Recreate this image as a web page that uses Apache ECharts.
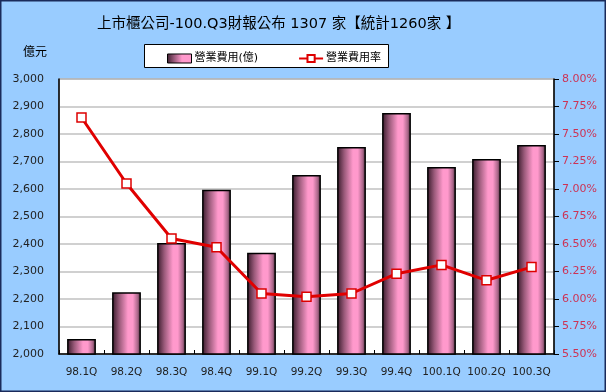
<!DOCTYPE html>
<html><head><meta charset="utf-8">
<script src="https://cdn.jsdelivr.net/npm/echarts@6/dist/echarts.min.js"></script>
<style>html,body{margin:0;padding:0;background:#99CCFF;}#c{width:606px;height:392px;}</style>
</head><body><div id="c"></div>
<script>
const categories = ['98.1Q','98.2Q','98.3Q','98.4Q','99.1Q','99.2Q','99.3Q','99.4Q','100.1Q','100.2Q','100.3Q'];
const expense = [2055, 2225, 2404, 2597, 2368, 2651, 2753, 2876, 2680, 2709, 2760];
const expenseRate = [7.65, 7.05, 6.55, 6.47, 6.05, 6.02, 6.05, 6.23, 6.31, 6.17, 6.29];
const cjk = '"DejaVu Sans","Noto Sans CJK TC",sans-serif';
const chart = echarts.init(document.getElementById('c'));
chart.setOption({
  backgroundColor: '#99CCFF',
  animation: false,
  title: {
    text: '上市櫃公司-100.Q3財報公布 1307 家【統計1260家 】',
    left: 92, top: 12,
    textStyle: {fontFamily: cjk, fontSize: 14.5, fontWeight: 'normal', color: '#000'}
  },
  graphic: [
    {type: 'rect', shape: {x: 0.5, y: 0.5, width: 605, height: 391}, style: {fill: 'none', stroke: '#1a2a5a', lineWidth: 2}, silent: true},
    {type: 'rect', shape: {x: 144.5, y: 44.5, width: 244, height: 23}, style: {fill: '#fff', stroke: '#000', lineWidth: 1}, z: -1, silent: true},
    {type: 'text', left: 23, top: 45, style: {text: '億元', font: '12px "Noto Sans CJK TC"', fill: '#000'}}
  ],
  legend: {
    left: 162, top: 48, itemGap: 40, itemWidth: 24, itemHeight: 9,
    textStyle: {fontFamily: cjk, fontSize: 11, color: '#000', padding: [0,0,0,-2]},
    data: [
      {name: '營業費用(億)', icon: 'rect', itemStyle: {color: new echarts.graphic.LinearGradient(0,0,1,0,[{offset:0,color:'#3d2030'},{offset:0.6,color:'#ff99cc'},{offset:1,color:'#ff99cc'}]), borderColor:'#000', borderWidth:1}},
      {name: '營業費用率'}
    ]
  },
  grid: {left: 59, right: 52, top: 79, bottom: 38, show: true, backgroundColor: '#fff', borderColor: '#777', borderWidth: 1},
  xAxis: {
    type: 'category', data: categories, boundaryGap: true,
    axisLine: {lineStyle: {color: '#000', width: 1.5}},
    axisTick: {show: true, inside: true, length: 4, lineStyle: {color: '#000'}},
    axisLabel: {color: '#222', fontFamily: '"DejaVu Sans"', fontSize: 10.5, margin: 13, interval: 0}
  },
  yAxis: [
    {type: 'value', min: 2000, max: 3000, interval: 100,
     axisLine: {show: true, lineStyle: {color: '#000', width: 1.5}},
     axisTick: {show: false},
     axisLabel: {color: '#222', fontFamily: '"DejaVu Sans"', fontSize: 11, margin: 15,
       formatter: v => v.toLocaleString('en-US')},
     splitLine: {lineStyle: {color: '#c0c0c0', width: 1.5}}},
    {type: 'value', min: 5.5, max: 8.0, interval: 0.25, position: 'right',
     axisLine: {show: true, lineStyle: {color: '#000', width: 1.5}},
     axisTick: {show: true, inside: false, length: 5, lineStyle: {color: '#000'}},
     axisLabel: {color: '#cc3355', fontFamily: '"DejaVu Sans"', fontSize: 11, margin: 8,
       formatter: v => v.toFixed(2) + '%'},
     splitLine: {show: false}}
  ],
  series: [
    {name: '營業費用(億)', type: 'bar', data: expense, barWidth: '64%', yAxisIndex: 0,
     itemStyle: {
       color: new echarts.graphic.LinearGradient(0,0,1,0,[
         {offset:0,color:'#351828'},{offset:0.25,color:'#9a5a7a'},{offset:0.55,color:'#ff99cc'},{offset:0.72,color:'#ff99cc'},{offset:0.88,color:'#b06a8e'},{offset:1,color:'#4a2a3a'}]),
       borderColor: '#000', borderWidth: 1.5}},
    {name: '營業費用率', type: 'line', data: expenseRate, yAxisIndex: 1,
     symbol: 'rect', symbolSize: 9, showAllSymbol: true,
     lineStyle: {color: '#e00000', width: 3},
     itemStyle: {color: '#fff', borderColor: '#dd0000', borderWidth: 1.5},
     z: 5}
  ]
});
</script></body></html>
